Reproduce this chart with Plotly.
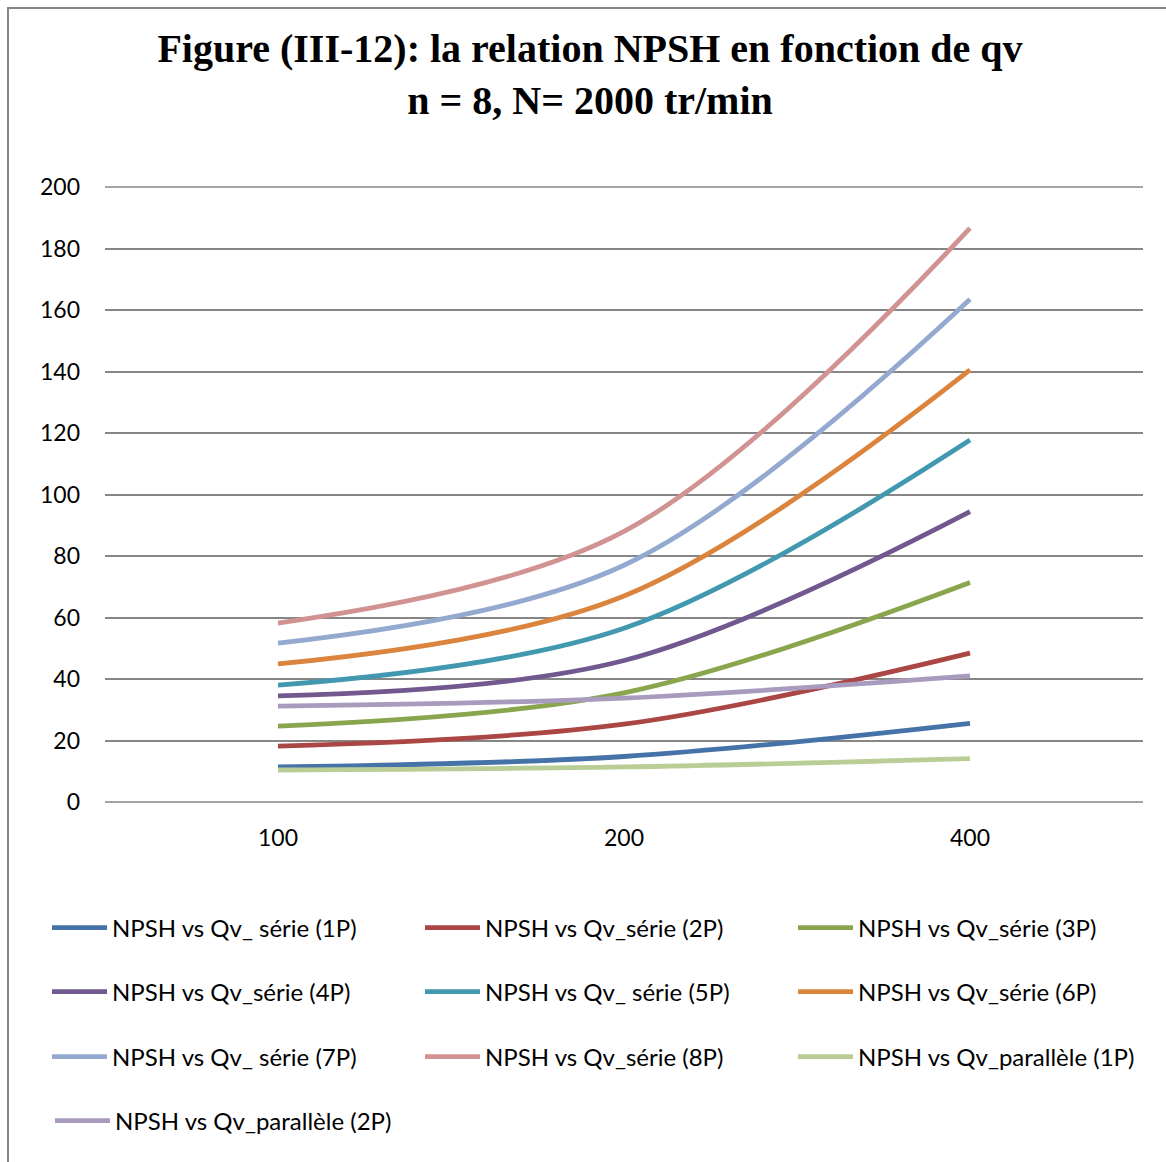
import plotly.graph_objects as go

categories = ["100", "200", "400"]

serie_1p = [11.4, 14.8, 25.6]
serie_2p = [18.2, 25.3, 48.4]
serie_3p = [24.7, 35.5, 71.4]
serie_4p = [34.5, 46.0, 94.4]
serie_5p = [38.0, 56.5, 117.7]
serie_6p = [44.9, 67.0, 140.5]
serie_7p = [51.7, 77.0, 163.5]
serie_8p = [58.2, 88.0, 186.6]
parallele_1p = [10.4, 11.4, 14.1]
parallele_2p = [31.2, 33.8, 41.0]

names = [
    "NPSH vs Qv_ série (1P)", "NPSH vs Qv_série (2P)", "NPSH vs Qv_série (3P)",
    "NPSH vs Qv_série (4P)", "NPSH vs Qv_ série (5P)", "NPSH vs Qv_série (6P)",
    "NPSH vs Qv_ série (7P)", "NPSH vs Qv_série (8P)", "NPSH vs Qv_parallèle (1P)",
    "NPSH vs Qv_parallèle (2P)",
]
series = [serie_1p, serie_2p, serie_3p, serie_4p, serie_5p, serie_6p,
          serie_7p, serie_8p, parallele_1p, parallele_2p]
colors = ["#4572A7", "#AA4643", "#89A54E", "#71588F", "#4198AF", "#DB843D",
          "#93A9CF", "#D19392", "#B9CD96", "#A99BBD"]
legend_ids = ["legend", "legend", "legend", "legend2", "legend2", "legend2",
              "legend3", "legend3", "legend3", "legend4"]

FONT = "Lato, Calibri, Carlito, sans-serif"

fig = go.Figure()
for name, vals, col, lg in zip(names, series, colors, legend_ids):
    fig.add_trace(go.Scatter(
        x=categories, y=vals, name=name, mode="lines",
        line=dict(color=col, width=4.8, shape="spline", smoothing=1.0),
        legend=lg, hoverinfo="skip",
    ))

W, H = 1166, 1162
L, R, T, B = 105, 23, 187, 360
pw = W - L - R
ph = H - T - B

def px_x(p):
    return (p - L) / pw

def px_y(p):
    return (H - B - p) / ph

legend_common = dict(
    orientation="h", xanchor="left", yanchor="middle",
    entrywidth=303, entrywidthmode="pixels",
    font=dict(family=FONT, size=24, color="#000000"),
    bgcolor="rgba(0,0,0,0)", itemwidth=55, traceorder="normal",
)

fig.update_layout(
    width=W, height=H,
    margin=dict(l=L, r=R, t=T, b=B),
    paper_bgcolor="white", plot_bgcolor="white",
    title=dict(
        text="Figure (III-12): la relation NPSH en fonction de qv<br>n = 8, N= 2000 tr/min",
        x=590 / W, xanchor="center", y=1 - 62 / H, yanchor="middle",
        font=dict(family="Liberation Serif, Times New Roman, serif", size=40, color="#000000", weight="bold"),
    ),
    xaxis=dict(
        type="category", showgrid=False, showline=False, zeroline=False,
        ticks="", tickfont=dict(family=FONT, size=23, color="#000000"),
        range=[-0.5, 2.5], ticklabelstandoff=20,
    ),
    yaxis=dict(
        range=[0, 200], dtick=20, showgrid=True, gridcolor="#868686", gridwidth=1.5,
        zeroline=False, showline=False, ticks="",
        tickfont=dict(family=FONT, size=23, color="#000000"),
        ticklabelstandoff=24,
    ),
    legend=dict(x=px_x(53), y=px_y(928), **legend_common),
    legend2=dict(x=px_x(53), y=px_y(992), **legend_common),
    legend3=dict(x=px_x(53), y=px_y(1057), **legend_common),
    legend4=dict(x=px_x(50), y=px_y(1121), **legend_common),
    shapes=[
        dict(type="line", xref="paper", yref="paper", x0=0, x1=1, y0=0, y1=0,
             line=dict(color="#868686", width=1.5), layer="below"),
        dict(type="line", xref="paper", yref="paper", x0=0, x1=1, y0=1, y1=1,
             line=dict(color="#868686", width=1.5), layer="below"),
        dict(type="rect", xref="paper", yref="paper",
             x0=px_x(8), x1=px_x(1175), y0=px_y(8), y1=px_y(1175),
             line=dict(color="#868686", width=2), layer="below"),
    ],
)

fig.write_html("out.html")
